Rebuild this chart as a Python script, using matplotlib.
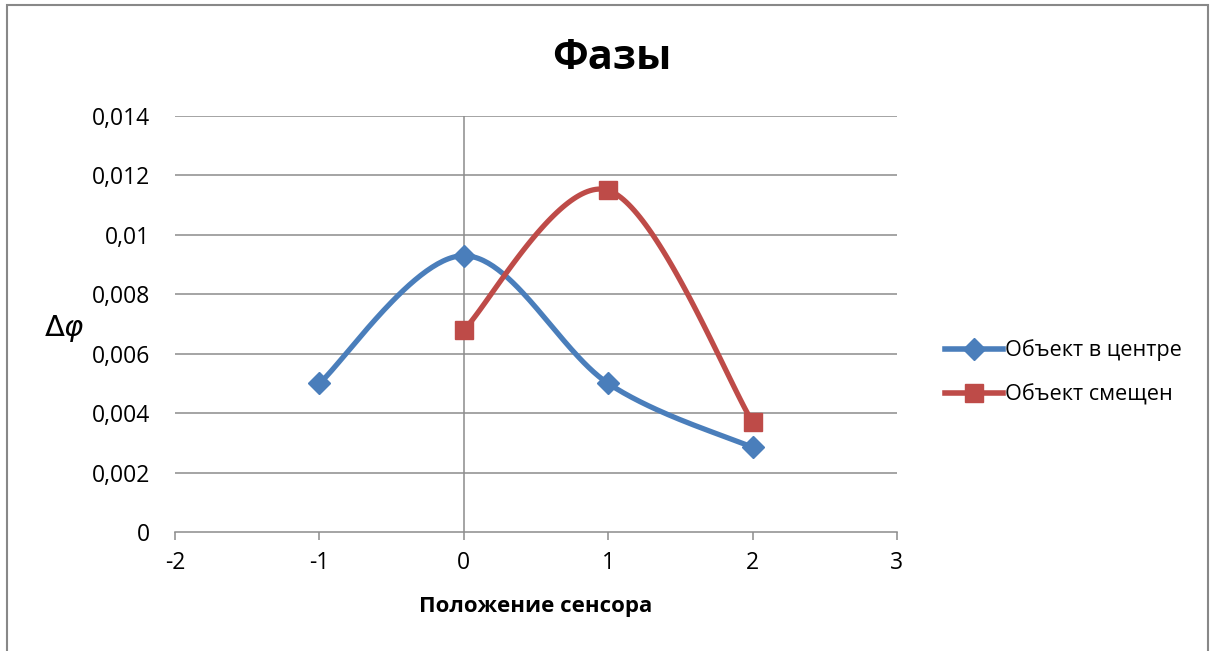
import matplotlib.pyplot as plt
import numpy as np
from matplotlib.lines import Line2D
from matplotlib.patches import Rectangle

plt.rcParams['font.family'] = ['Open Sans', 'DejaVu Sans']
plt.rcParams['mathtext.fontset'] = 'dejavusans'

# положения сенсора и разности фаз
x_center = [-1, 0, 1, 2]
y_center = [0.005, 0.0093, 0.005, 0.00285]
x_shift = [0, 1, 2]
y_shift = [0.0068, 0.0115, 0.0037]

labels = ["Объект в центре", "Объект смещен"]
xticks = [-2, -1, 0, 1, 2, 3]
yticks = [0, 0.002, 0.004, 0.006, 0.008, 0.01, 0.012, 0.014]
ytick_labels = ["0", "0,002", "0,004", "0,006", "0,008", "0,01", "0,012", "0,014"]

blue = "#4A7EBB"
red = "#BE4B48"
grid = "#8C8C8C"


def smooth(xs, ys, n=60):
    # сглаженная линия как в Excel: кубические Безье через точки
    xs = np.asarray(xs, float)
    ys = np.asarray(ys, float)
    px = np.concatenate([[xs[0]], xs, [xs[-1]]])
    py = np.concatenate([[ys[0]], ys, [ys[-1]]])
    out_x, out_y = [], []
    t = np.linspace(0, 1, n)
    for i in range(1, len(px) - 2):
        p0 = np.array([px[i], py[i]])
        p3 = np.array([px[i + 1], py[i + 1]])
        p1 = p0 + (np.array([px[i + 1], py[i + 1]]) - np.array([px[i - 1], py[i - 1]])) / 6
        p2 = p3 - (np.array([px[i + 2], py[i + 2]]) - np.array([px[i], py[i]])) / 6
        b = ((1 - t) ** 3)[:, None] * p0 + (3 * (1 - t) ** 2 * t)[:, None] * p1 \
            + (3 * (1 - t) * t ** 2)[:, None] * p2 + (t ** 3)[:, None] * p3
        out_x.extend(b[:, 0])
        out_y.extend(b[:, 1])
    return out_x, out_y


fig = plt.figure(figsize=(12.1, 6.51), dpi=100)
ax = fig.add_axes([0.1446, 0.1828, 0.5967, 0.639])

ax.set_xlim(-2, 3)
ax.set_ylim(0, 0.014)
ax.set_yticks(yticks)
ax.set_yticklabels(ytick_labels)
ax.set_xticks(xticks)
ax.set_xticklabels([str(v) for v in xticks])

for v in yticks[1:]:
    ax.axhline(v, color=grid, lw=1.1, zorder=1)
ax.axvline(0, color=grid, lw=1.1, zorder=1)

for side in ["left", "right", "top"]:
    ax.spines[side].set_visible(False)
ax.spines["bottom"].set_color(grid)
ax.spines["bottom"].set_linewidth(1.1)
ax.tick_params(axis="y", length=0, pad=18, labelsize=16.5)
ax.tick_params(axis="x", length=6, width=1.1, color=grid, pad=8, labelsize=16.5)

sx, sy = smooth(x_center, y_center)
ax.plot(sx, sy, color=blue, lw=3.8, zorder=3, solid_capstyle="round")
ax.plot(x_center, y_center, "D", color=blue, ms=11, zorder=4)

sx, sy = smooth(x_shift, y_shift)
ax.plot(sx, sy, color=red, lw=3.8, zorder=3, solid_capstyle="round")
ax.plot(x_shift, y_shift, "s", color=red, ms=13, zorder=4)

ax.set_xlabel("Положение сенсора", fontsize=16, fontweight="bold", labelpad=15)
fig.text(0.036, 0.496, r"$\mathit{\Delta}\varphi$", fontsize=21, ha="left", va="center")

fig.text(0.506, 0.91, "Фазы", fontsize=30, fontweight="bold", ha="center", va="center")

handles = [
    Line2D([], [], color=blue, lw=4, marker="D", ms=11),
    Line2D([], [], color=red, lw=4, marker="s", ms=13),
]
fig.legend(handles, labels, loc="center left", bbox_to_anchor=(0.765, 0.428),
           frameon=False, fontsize=15.6, handlelength=2.65, handletextpad=0.1,
           labelspacing=1.05)

# рамка вокруг диаграммы
fig.patches.append(Rectangle((0.006, -0.01), 0.992, 1.003, transform=fig.transFigure,
                             fill=False, edgecolor="#888888", lw=1.5))

fig.savefig("out.png", dpi=100)
